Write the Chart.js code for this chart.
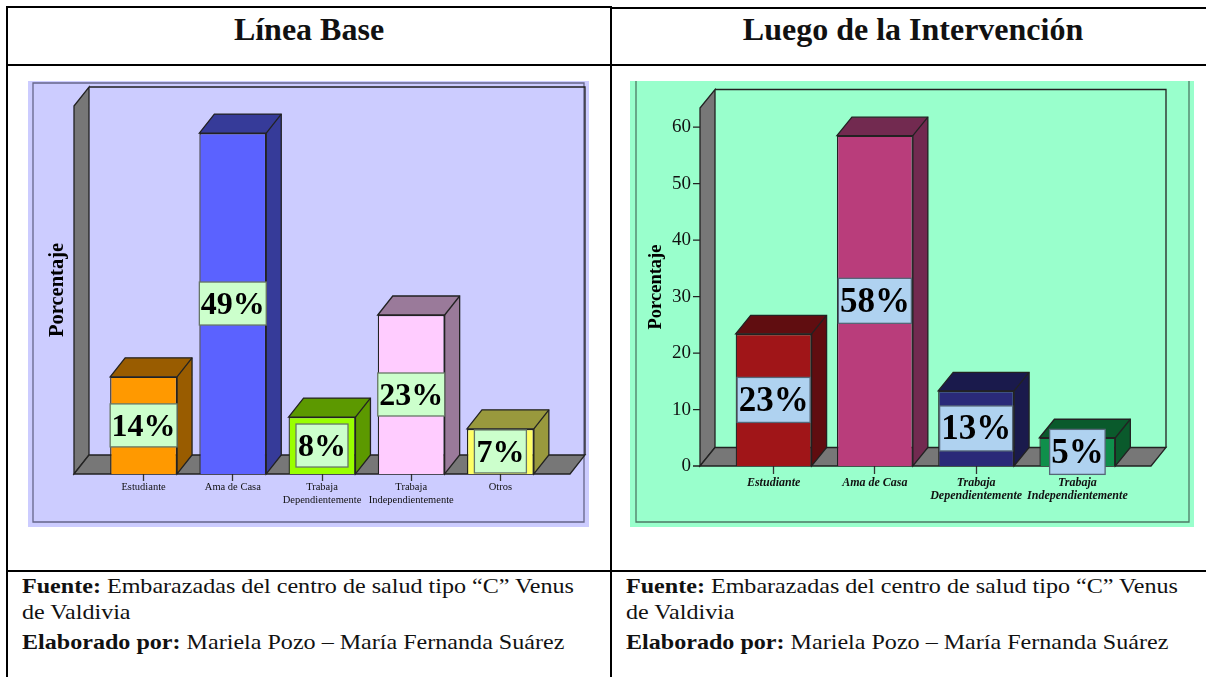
<!DOCTYPE html>
<html>
<head>
<meta charset="utf-8">
<title>Línea Base / Luego de la Intervención</title>
<script src="https://cdn.jsdelivr.net/npm/chart.js@4"></script>
<style>
    html, body { margin: 0; padding: 0; background: #fff; }
    body { position: relative; width: 1206px; height: 677px; overflow: hidden; font-family: "Liberation Serif", serif; color: #111; }
    .line { position: absolute; background: #000; }
    .head { position: absolute; top: 9px; font-weight: bold; font-size: 32px; line-height: 40px; color: #111; text-align: center; white-space: nowrap; }
    .note { position: absolute; font-size: 21.5px; line-height: 24px; white-space: nowrap; transform: scaleX(1.12); transform-origin: left top; }
    canvas { position: absolute; display: block; }
    #chartBase { left: 28px; top: 81px; background: #ccccff; }
    #chartPost { left: 630px; top: 81px; background: #99ffcc; }
</style>
</head>
<body>
<div class="line" style="left:6px;top:6px;width:605px;height:2px"></div>
<div class="line" style="left:611px;top:7px;width:595px;height:2px"></div>
<div class="line" style="left:6px;top:64px;width:1200px;height:2px"></div>
<div class="line" style="left:6px;top:570px;width:1200px;height:2px"></div>
<div class="line" style="left:6px;top:6px;width:2px;height:671px"></div>
<div class="line" style="left:610px;top:6px;width:2px;height:671px"></div>

<div class="head" style="left:8px;width:602px">Línea Base</div>
<div class="head" style="left:612px;width:602px">Luego de la Intervención</div>

<canvas id="chartBase" width="561" height="446"></canvas>
<canvas id="chartPost" width="564" height="446"></canvas>

<div class="note" style="left:22px;top:574px"><b>Fuente:</b> Embarazadas del centro de salud tipo “C” Venus</div>
<div class="note" style="left:22px;top:600px">de Valdivia</div>
<div class="note" style="left:22px;top:630px"><b>Elaborado por:</b> Mariela Pozo – María Fernanda Suárez</div>
<div class="note" style="left:626px;top:574px"><b>Fuente:</b> Embarazadas del centro de salud tipo “C” Venus</div>
<div class="note" style="left:626px;top:600px">de Valdivia</div>
<div class="note" style="left:626px;top:630px"><b>Elaborado por:</b> Mariela Pozo – María Fernanda Suárez</div>

<script>
// values
const baseCategories = ["Estudiante", "Ama de Casa", ["Trabaja", "Dependientemente"], ["Trabaja", "Independientemente"], "Otros"];
const baseValues = [14, 49.1, 8.2, 22.9, 6.5];
const baseLabels = ["14%", "49%", "8%", "23%", "7%"];

const postCategories = ["Estudiante", "Ama de Casa", ["Trabaja", "Dependientemente"], ["Trabaja", "Independientemente"]];
const postValues = [23.4, 58.5, 13.3, 5];
const postLabels = ["23%", "58%", "13%", "5%"];

const baseFront = ["#ff9900", "#5b62ff", "#99ff00", "#ffccff", "#ffff66"];
const baseSide = ["#995c00", "#363b99", "#5c9900", "#9a7a9a", "#99993d"];
const postFront = ["#a01518", "#b93d7b", "#2a2a78", "#0f8f4b"];
const postSide = ["#600d10", "#722a50", "#1a1a4c", "#0a5a2c"];

// fake 3d: walls, floor, bar tops/sides and the value boxes, all hung off the chart's own scales
const solid3d = {
    id: "solid3d",
    beforeDatasetsDraw(chart, args, o) {
        const c = chart.ctx, area = chart.chartArea;
        const left = area.left - o.inset, right = area.right + o.inset;
        c.save();
        c.lineWidth = 1.3;
        c.strokeStyle = o.frame;
        c.beginPath();
        if (o.frameTop) {
            c.rect(5, 2, chart.width - 10, chart.height - 7);
        } else {
            c.moveTo(6, 0); c.lineTo(6, chart.height - 5);
            c.lineTo(chart.width - 5, chart.height - 5); c.lineTo(chart.width - 5, 0);
        }
        c.stroke();

        c.strokeStyle = "#222";
        c.fillStyle = "#777777";
        c.beginPath();
        c.moveTo(left, area.top);
        c.lineTo(left + o.dx, area.top - o.dy);
        c.lineTo(left + o.dx, area.bottom - o.dy);
        c.lineTo(left, area.bottom);
        c.closePath();
        c.fill(); c.stroke();

        c.beginPath();
        c.moveTo(left, area.bottom);
        c.lineTo(left + o.dx, area.bottom - o.dy);
        c.lineTo(right + o.dx, area.bottom - o.dy);
        c.lineTo(right, area.bottom);
        c.closePath();
        c.fill(); c.stroke();

        c.beginPath();
        c.moveTo(left + o.dx, area.top - o.dy);
        c.lineTo(right + o.dx, area.top - o.dy);
        c.lineTo(right + o.dx, area.bottom - o.dy);
        c.stroke();

        // y ticks sit on the front edge of the wall, left of the floor inset
        if (o.yTicks) {
            const y = chart.scales.y;
            c.beginPath();
            y.ticks.forEach((t, i) => {
                const py = y.getPixelForTick(i);
                c.moveTo(left - 7, py); c.lineTo(left, py);
            });
            c.stroke();
        }

        chart.getDatasetMeta(0).data.forEach((bar, i) => {
            const x0 = bar.x - bar.width / 2, x1 = bar.x + bar.width / 2;
            c.fillStyle = o.side[i];
            c.beginPath();
            c.moveTo(x0, bar.y);
            c.lineTo(x0 + o.dx, bar.y - o.dy);
            c.lineTo(x1 + o.dx, bar.y - o.dy);
            c.lineTo(x1 + o.dx, bar.base - o.dy);
            c.lineTo(x1, bar.base);
            c.lineTo(x1, bar.y);
            c.closePath();
            c.fill(); c.stroke();
            c.beginPath();
            c.moveTo(x1, bar.y); c.lineTo(x1 + o.dx, bar.y - o.dy);
            c.stroke();
        });
        c.restore();
    },
    afterDatasetsDraw(chart, args, o) {
        const c = chart.ctx;
        c.save();
        c.font = o.boxFont;
        c.textAlign = "center";
        c.textBaseline = "middle";
        chart.getDatasetMeta(0).data.forEach((bar, i) => {
            const w = Math.min(bar.width, c.measureText(o.labels[i]).width + o.boxPad);
            const cy = (bar.y + bar.base) / 2;
            c.fillStyle = o.boxFill;
            c.strokeStyle = o.boxEdge;
            c.lineWidth = 1.3;
            c.fillRect(bar.x - w / 2, cy - o.boxH / 2, w, o.boxH);
            c.strokeRect(bar.x - w / 2, cy - o.boxH / 2, w, o.boxH);
            c.fillStyle = "#000";
            c.fillText(o.labels[i], bar.x, cy + 2);
        });
        c.restore();
    }
};

function drawBars(id, cats, vals, front, yMax, look) {
    new Chart(document.getElementById(id), {
        type: "bar",
        data: {
            labels: cats,
            datasets: [{
                data: vals,
                backgroundColor: front,
                borderColor: "#222",
                borderWidth: 1.3,
                barPercentage: 0.75,
                categoryPercentage: 1
            }]
        },
        plugins: [solid3d],
        options: {
            responsive: false,
            animation: false,
            layout: { padding: look.padding },
            plugins: {
                legend: { display: false },
                tooltip: { enabled: false },
                solid3d: look.solid
            },
            scales: {
                x: {
                    afterFit(s) { s.height = look.xHeight; s.paddingLeft = 0; s.paddingRight = 0; },
                    border: { display: false },
                    grid: { offset: false, drawOnChartArea: false, tickLength: look.xTickLen, tickColor: "#333", tickWidth: 1.3 },
                    ticks: { autoSkip: false, maxRotation: 0, padding: look.xTickPad, color: "#111", font: look.xFont }
                },
                y: {
                    min: 0,
                    max: yMax,
                    afterFit(s) { s.width = look.yWidth; s.paddingTop = 0; s.paddingBottom = 0; },
                    border: { display: false },
                    grid: { display: false },
                    title: {
                        display: true,
                        text: "Porcentaje",
                        color: "#000",
                        font: look.titleFont,
                        padding: { top: look.titleTop, bottom: 0 }
                    },
                    ticks: {
                        display: look.showY,
                        stepSize: 10,
                        includeBounds: false,
                        padding: look.yTickPad,
                        color: "#111",
                        font: { family: "Liberation Serif", size: 19 }
                    }
                }
            }
        }
    });
}

drawBars("chartBase", baseCategories, baseValues, baseFront, 53, {
    padding: { left: 0, right: 44, top: 25, bottom: 6 },
    xHeight: 47,
    yWidth: 71,
    showY: false,
    yTickPad: 0,
    xTickLen: 7,
    xTickPad: 0,
    titleTop: 17,
    titleFont: { family: "Liberation Serif", size: 20.5, weight: "bold", lineHeight: 1.2 },
    xFont: { family: "Liberation Serif", size: 10.5, lineHeight: 1.2 },
    solid: {
        inset: 25, dx: 15, dy: 19, frame: "#66668a", frameTop: true, yTicks: false,
        side: baseSide, labels: baseLabels,
        boxFont: "bold 32px 'Liberation Serif'", boxFill: "#ccffcc", boxEdge: "#667766", boxH: 43, boxPad: 4
    }
});

drawBars("chartPost", postCategories, postValues, postFront, 63.4, {
    padding: { left: 0, right: 66, top: 27, bottom: 6 },
    xHeight: 55,
    yWidth: 93,
    showY: true,
    yTickPad: 24,
    xTickLen: 8,
    xTickPad: 2,
    titleTop: 15,
    titleFont: { family: "Liberation Serif", size: 18.5, weight: "bold", lineHeight: 1.2 },
    xFont: { family: "Liberation Serif", size: 12, style: "italic", weight: "bold", lineHeight: 1.1 },
    solid: {
        inset: 23, dx: 15, dy: 18.5, frame: "#4d7a66", frameTop: false, yTicks: true,
        side: postSide, labels: postLabels,
        boxFont: "bold 35px 'Liberation Serif'", boxFill: "#afd2f0", boxEdge: "#556677", boxH: 45, boxPad: 3
    }
});
</script>
</body>
</html>
